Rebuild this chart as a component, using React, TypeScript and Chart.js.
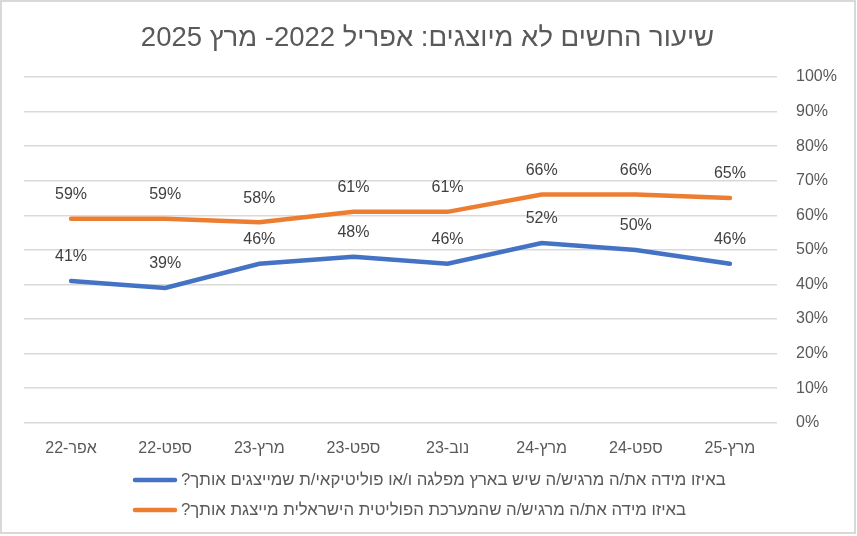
import { useEffect, useRef } from 'react';
import { Chart, registerables } from 'chart.js';

Chart.register(...registerables);

const chartTitle = 'שיעור החשים לא מיוצגים: אפריל 2022- מרץ 2025';
const categories = ['אפר-22', 'ספט-22', 'מרץ-23', 'ספט-23', 'נוב-23', 'מרץ-24', 'ספט-24', 'מרץ-25'];
const partyLabel = 'באיזו מידה את/ה מרגיש/ה שיש בארץ מפלגה ו/או פוליטיקאי/ת שמייצגים אותך?';
const partyValues = [41, 39, 46, 48, 46, 52, 50, 46];
const systemLabel = 'באיזו מידה את/ה מרגיש/ה שהמערכת הפוליטית הישראלית מייצגת אותך?';
const systemValues = [59, 59, 58, 61, 61, 66, 66, 65];
const yMax = 100;
const yStep = 10;

const FONT = "'Liberation Sans', Arial, sans-serif";

const frame = {
  id: 'frame',
  beforeDraw(chart: any) {
    const { ctx, width, height } = chart;
    ctx.save();
    ctx.fillStyle = '#ffffff';
    ctx.fillRect(0, 0, width, height);
    ctx.restore();
  },
  afterDraw(chart: any) {
    const { ctx, width, height } = chart;
    ctx.save();
    ctx.strokeStyle = '#d9d9d9';
    ctx.lineWidth = 2;
    ctx.strokeRect(1, 1, width - 3, height - 4);
    // title, centred on the whole frame rather than the padded box
    ctx.direction = 'rtl';
    ctx.font = `27.5px ${FONT}`;
    ctx.fillStyle = '#595959';
    ctx.textAlign = 'center';
    ctx.textBaseline = 'middle';
    ctx.fillText(chartTitle, (width - 2) / 2, 38);
    ctx.restore();
  },
};

const pointLabels = {
  id: 'pointLabels',
  afterDatasetsDraw(chart: any) {
    const { ctx } = chart;
    ctx.save();
    ctx.direction = 'rtl';
    ctx.font = `16px ${FONT}`;
    ctx.fillStyle = '#404040';
    ctx.textAlign = 'center';
    ctx.textBaseline = 'middle';
    chart.data.datasets.forEach((ds: any, i: number) => {
      const meta = chart.getDatasetMeta(i);
      meta.data.forEach((pt: any, j: number) => {
        ctx.fillText(ds.data[j] + '%', pt.x, pt.y - 24);
      });
    });
    ctx.restore();
  },
};

// legend rows: line sample on the left, RTL text to its right
const sideLegend = {
  id: 'sideLegend',
  afterDraw(chart: any) {
    const { ctx, height } = chart;
    ctx.save();
    ctx.direction = 'rtl';
    ctx.font = `16.8px ${FONT}`;
    ctx.textBaseline = 'middle';
    ctx.textAlign = 'left';
    chart.data.datasets.forEach((ds: any, i: number) => {
      const y = height - 56 + i * 30;
      ctx.strokeStyle = ds.borderColor;
      ctx.lineWidth = 4.5;
      ctx.lineCap = 'round';
      ctx.beginPath();
      ctx.moveTo(135, y);
      ctx.lineTo(175, y);
      ctx.stroke();
      ctx.fillStyle = '#595959';
      ctx.fillText(ds.label, 181, y);
    });
    ctx.restore();
  },
};

export default function App() {
  const canvasRef = useRef<HTMLCanvasElement>(null);

  useEffect(() => {
    if (!canvasRef.current) return;

    const chart = new Chart(canvasRef.current, {
      type: 'line',
      data: {
        labels: categories,
        datasets: [
          {
            label: partyLabel,
            data: partyValues,
            borderColor: '#4472c4',
            backgroundColor: '#4472c4',
            borderWidth: 4.5,
            borderCapStyle: 'round',
            pointRadius: 0,
            tension: 0,
          },
          {
            label: systemLabel,
            data: systemValues,
            borderColor: '#ed7d31',
            backgroundColor: '#ed7d31',
            borderWidth: 4.5,
            borderCapStyle: 'round',
            pointRadius: 0,
            tension: 0,
          },
        ],
      },
      options: {
        animation: false,
        responsive: true,
        maintainAspectRatio: false,
        layout: { padding: { left: 24, right: 0, top: 77, bottom: 70 } },
        plugins: {
          legend: { display: false },
          tooltip: { enabled: false },
          title: { display: false },
        },
        scales: {
          x: {
            offset: true,
            grid: { display: false },
            border: { display: false },
            ticks: {
              color: '#595959',
              font: { family: FONT, size: 16 },
              padding: 8,
              maxRotation: 0,
            },
          },
          y: {
            position: 'right',
            min: 0,
            max: yMax,
            grid: { color: '#d9d9d9', lineWidth: 1.5, drawTicks: false },
            border: { display: false },
            afterFit: (scale: any) => {
              scale.width = 80;
            },
            ticks: {
              stepSize: yStep,
              color: '#595959',
              font: { family: FONT, size: 16 },
              padding: 19,
              callback: (v: any) => v + '%',
            },
          },
        },
      },
      plugins: [frame, pointLabels, sideLegend],
    });

    return () => {
      chart.destroy();
    };
  }, []);

  return (
    <div style={{ position: 'absolute', left: 0, top: 0, width: 857, height: 536 }}>
      <canvas ref={canvasRef} style={{ direction: 'rtl' }} />
    </div>
  );
}
